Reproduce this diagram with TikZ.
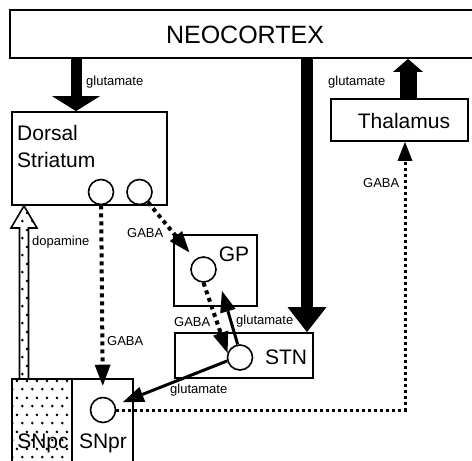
\documentclass[tikz,border=0pt]{standalone}
\usepackage{fontspec}
\setmainfont{Liberation Sans}
\usetikzlibrary{arrows.meta,patterns,calc}
\pgfdeclarepatternformonly{sndots}{\pgfpointorigin}{\pgfpoint{10pt}{16.6pt}}{\pgfpoint{10pt}{16.6pt}}{%
  \pgfpathcircle{\pgfpoint{2.5pt}{4pt}}{1.5pt}%
  \pgfpathcircle{\pgfpoint{7.5pt}{12.3pt}}{1.5pt}%
  \pgfusepath{fill}}
\tikzset{
  box/.style={draw,line width=1.8pt,inner sep=0pt},
  cell/.style={circle,draw,fill=white,line width=1.6pt,minimum size=25pt,inner sep=0pt},
  title/.style={font=\fontsize{21}{27}\selectfont,inner sep=0pt},
  lbl/.style={font=\fontsize{13}{15}\selectfont,inner sep=0pt,anchor=base west},
  gaba/.style={line width=4pt,dash pattern=on 4pt off 4pt,-{Triangle[length=21pt,width=16pt,line width=0pt]}},
  glu/.style={line width=3pt,-{Triangle[length=21pt,width=16pt,line width=0pt]}},
}
\begin{document}
\begin{tikzpicture}[x=1pt,y=-1pt]
  \clip (0,0) rectangle (472,461);
  \node[box,minimum width=470pt,minimum height=48pt] (ctx) at (245,34) {};
  \node[box,minimum width=155pt,minimum height=93pt] (str) at (89.5,158.5) {};
  \node[box,minimum width=137pt,minimum height=42pt] (thal) at (399.5,120) {};
  \node[box,minimum width=83pt,minimum height=71pt] (gp) at (215.5,270.5) {};
  \node[box,minimum width=138pt,minimum height=45pt] (stn) at (244,355.5) {};
  \node[box,pattern=sndots,minimum width=60pt,minimum height=101pt] (snc) at (42,429.5) {};
  \node[box,minimum width=61pt,minimum height=101pt] (snr) at (102.5,429.5) {};

  \node[title,font=\fontsize{25}{30}\selectfont,anchor=base] (ctxt) at (245,43) {NEOCORTEX};
  \node[title,anchor=north west,align=left] (strt) at (17,125) {Dorsal\\Striatum};
  \node[title,anchor=base] (thalt) at (404,128) {Thalamus};
  \node[title,anchor=base] (gpt) at (234,261) {GP};
  \node[title,anchor=base] (stnt) at (286,364) {STN};
  \node[title,anchor=base] (snct) at (43,448) {SNpc};
  \node[title,anchor=base] (snrt) at (103,448) {SNpr};

  \node[cell] (str1) at (101,192) {};
  \node[cell] (str2) at (139.5,192) {};
  \node[cell] (gp1) at (203.5,269.5) {};
  \node[cell] (stn1) at (240,357.5) {};
  \node[cell] (snr1) at (103,410) {};
  \coordinate (gpin) at (222,291);
  \coordinate (turn) at (405,410);

  \draw[line width=11pt,-{Triangle[length=15pt,width=48pt,line width=0pt]}] (ctx.south -| 76,0) -- (str.north -| 76,0);
  \draw[line width=12pt,-{Triangle[length=25pt,width=39pt,line width=0pt]}] (ctx.south -| 307,0) -- (stn.north -| 307,0);
  \draw[line width=17pt,-{Triangle[length=13pt,width=30pt,line width=0pt]}] (thal.north -| 408,0) -- (ctx.south -| 408,0);
  \draw[pattern=sndots,line width=1.6pt] (snc.north -| 19.5,0) -- (19.5,228) -- (11,228) -- (str.south -| 24,0)
    -- (37,228) -- (28.5,228) -- (snc.north -| 28.5,0);

  \draw[gaba,shorten >=11pt] (str1) -- (snr1);
  \draw[gaba,shorten >=9pt] (str2) -- (gp1);
  \draw[gaba] (gp1.south) -- (stn1.160);
  \draw[glu] (stn1.100) -- (gpin);
  \draw[glu,shorten >=8pt] (stn1.195) -- (snr1);
  \draw[gaba,line width=3pt,dash pattern=on 3pt off 3pt,-{Triangle[length=19pt,width=15pt,line width=0pt]}]
    (snr1.east) -- (turn) -- (thal.south -| turn);

  \node[lbl] (l1) at (86,85) {glutamate};
  \node[lbl] (l2) at (328,85) {glutamate};
  \node[lbl] (l3) at (363,187) {GABA};
  \node[lbl] (l4) at (32,245) {dopamine};
  \node[lbl] (l5) at (127,237) {GABA};
  \node[lbl] (l6) at (107,345) {GABA};
  \node[lbl] (l7) at (174,326) {GABA};
  \node[lbl] (l8) at (236,324) {glutamate};
  \node[lbl] (l9) at (170,393) {glutamate};
\end{tikzpicture}
\end{document}
